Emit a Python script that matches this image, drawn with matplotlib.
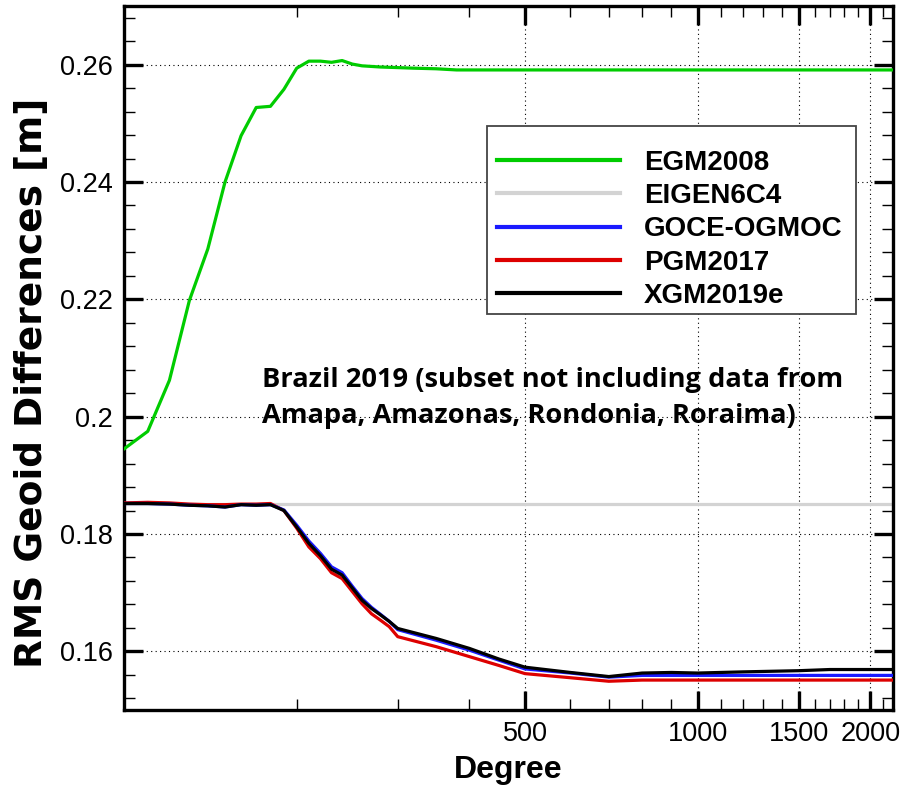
import matplotlib
matplotlib.use('Agg')
import matplotlib.pyplot as plt
from matplotlib.patches import Rectangle
from matplotlib.ticker import FixedLocator, NullFormatter, MultipleLocator

# degree axis
deg_egm = [100, 110, 120, 130, 140, 150, 160, 170, 180, 190, 200, 210, 220, 230, 240, 250,
           260, 280, 300, 320, 350, 380, 400, 500, 700, 1000, 1500, 2190]
egm2008 = [0.1945, 0.1975, 0.2062, 0.2198, 0.2286, 0.2400, 0.2479, 0.2527, 0.2529, 0.2558,
           0.2594, 0.2606, 0.2606, 0.2604, 0.2607, 0.2601, 0.2598, 0.2596, 0.2595, 0.2594,
           0.2593, 0.2591, 0.2591, 0.2591, 0.2591, 0.2591, 0.2591, 0.2591]

deg_eigen = [100, 2190]
eigen6c4 = [0.1851, 0.1851]

deg = [100, 110, 120, 130, 140, 150, 160, 170, 180, 190, 200, 210, 220, 230, 240, 250,
       260, 270, 280, 290, 300, 350, 400, 450, 500, 600, 700, 800, 900, 1000, 1200,
       1500, 1700, 2190]
xgm2019e = [0.1852, 0.1852, 0.1851, 0.1849, 0.1848, 0.1846, 0.1850, 0.1849, 0.1850, 0.1840,
            0.1812, 0.1784, 0.1763, 0.1740, 0.1730, 0.1708, 0.1687, 0.1673, 0.1662, 0.1651,
            0.1639, 0.1622, 0.1605, 0.1587, 0.1573, 0.1564, 0.1557, 0.1563, 0.1564, 0.1563,
            0.1565, 0.1567, 0.1569, 0.1569]
goce_ogmoc = [0.1852, 0.1852, 0.1851, 0.1849, 0.1848, 0.1846, 0.1850, 0.1849, 0.1850, 0.1841,
              0.1815, 0.1788, 0.1767, 0.1744, 0.1734, 0.1711, 0.1690, 0.1675, 0.1663, 0.1651,
              0.1637, 0.1619, 0.1602, 0.1585, 0.1570, 0.1563, 0.1556, 0.1559, 0.1559, 0.1559,
              0.1559, 0.1559, 0.1559, 0.1559]
pgm2017 = [0.1853, 0.1854, 0.1853, 0.1851, 0.1850, 0.1850, 0.1851, 0.1851, 0.1852, 0.1840,
           0.1810, 0.1778, 0.1758, 0.1734, 0.1724, 0.1702, 0.1681, 0.1664, 0.1653, 0.1642,
           0.1625, 0.1608, 0.1591, 0.1576, 0.1562, 0.1555, 0.1549, 0.1551, 0.1551, 0.1551,
           0.1551, 0.1551, 0.1551, 0.1551]

labels = ['EGM2008', 'EIGEN6C4', 'GOCE-OGMOC', 'PGM2017', 'XGM2019e']
colors = ['#00cc00', '#d3d3d3', '#1a1aff', '#dd0000', '#000000']

plt.rcParams['font.family'] = ['Liberation Sans', 'DejaVu Sans']

fig = plt.figure(figsize=(9.12, 7.85), dpi=100)
ax = fig.add_axes([124/912, 1-710/785, (893-124)/912, (710-6)/785])

lw = 2.3
ax.plot(deg_egm, egm2008, color=colors[0], lw=lw, label=labels[0], zorder=3)
ax.plot(deg_eigen, eigen6c4, color=colors[1], lw=lw, label=labels[1], zorder=2)
ax.plot(deg, goce_ogmoc, color=colors[2], lw=lw, label=labels[2], zorder=4)
ax.plot(deg, pgm2017, color=colors[3], lw=lw, label=labels[3], zorder=3)
ax.plot(deg, xgm2019e, color=colors[4], lw=lw, label=labels[4], zorder=5)

ax.set_xscale('log')
ax.set_xlim(100, 2190)
ax.set_ylim(0.15, 0.27)

ax.xaxis.set_major_locator(FixedLocator([500, 1000, 1500, 2000]))
ax.xaxis.set_major_formatter(plt.FixedFormatter(['500', '1000', '1500', '2000']))
minor_x = [200, 300, 400, 600, 700, 800, 900, 1100, 1200, 1300, 1400,
           1600, 1700, 1800, 1900, 2100]
ax.xaxis.set_minor_locator(FixedLocator(minor_x))
ax.xaxis.set_minor_formatter(NullFormatter())

ax.yaxis.set_minor_locator(MultipleLocator(0.004))
yt = [0.16, 0.18, 0.2, 0.22, 0.24, 0.26]
ax.set_yticks(yt)
ax.set_yticklabels(['0.16', '0.18', '0.2', '0.22', '0.24', '0.26'])

ax.tick_params(which='both', direction='in', top=True, right=True, labelsize=19.5)
ax.tick_params(which='major', length=13.5, width=2.4, pad=8)
ax.tick_params(which='minor', length=8, width=1.0)
for s in ax.spines.values():
    s.set_linewidth(2.4)

ax.grid(True, which='major', color='black', linestyle=(0, (1, 3)), linewidth=0.8)
ax.set_axisbelow(True)

ax.set_xlabel('Degree', fontsize=23, fontweight='bold', labelpad=6)
ax.set_ylabel('RMS Geoid Differences [m]', fontsize=27, fontweight='bold',
              family='DejaVu Sans')
ax.yaxis.set_label_coords(-0.096, 0.4645)

ax.text(262/912, 1-398/785,
        'Brazil 2019 (subset not including data from\nAmapa, Amazonas, Rondonia, Roraima)',
        transform=fig.transFigure, family='Open Sans', fontweight='bold', fontsize=19.6,
        linespacing=1.5, va='center', ha='left', zorder=6)

# legend box drawn separately so the padding can match
box = Rectangle((487/912, 1-314/785), (856-487)/912, (314-126)/785,
                transform=fig.transFigure, facecolor='white', edgecolor='#444444',
                linewidth=1.3, zorder=6)
ax.add_patch(box)
leg = ax.legend(loc='upper left', bbox_to_anchor=(497/912, 1-150/785),
                bbox_transform=fig.transFigure, borderaxespad=0, borderpad=0,
                prop={'weight': 'bold', 'size': 20}, handlelength=4.42,
                handletextpad=0.86, labelspacing=0.26, frameon=False)
leg.set_zorder(7)
for line in leg.get_lines():
    line.set_linewidth(3)

fig.savefig('out.png', dpi=100)
